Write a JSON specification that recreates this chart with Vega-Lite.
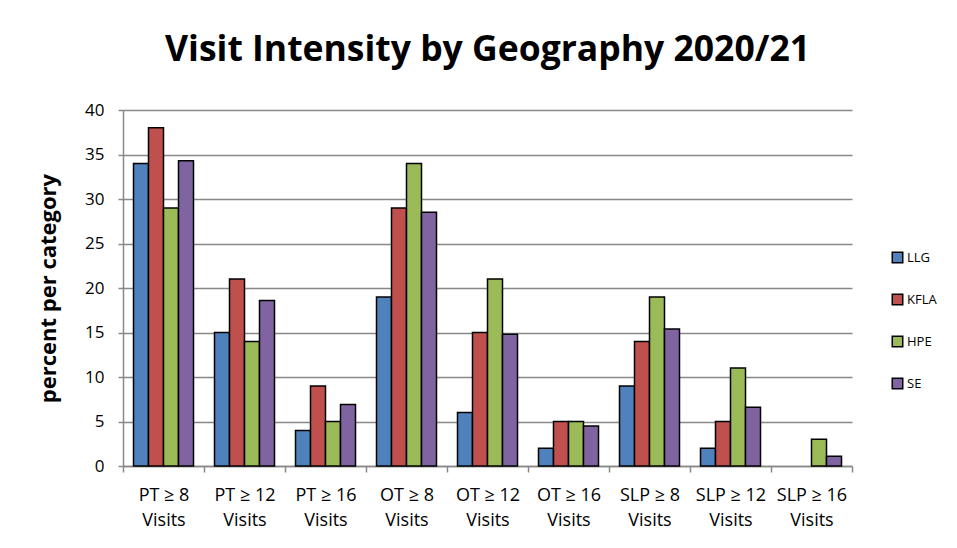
{
  "$schema": "https://vega.github.io/schema/vega-lite/v6.json",
  "width": 729,
  "height": 356,
  "autosize": {"type": "none"},
  "padding": {"left": 123, "top": 110, "right": 105, "bottom": 82},
  "background": "white",
  "title": {
    "text": "Visit Intensity by Geography 2020/21",
    "fontSize": 35.5,
    "font": "Open Sans",
    "fontWeight": "bold",
    "color": "black",
    "anchor": "middle",
    "offset": 33
  },
  "data": {
    "values": [
      {"cat": "PT ≥ 8", "geo": "LLG", "pct": 34},
      {"cat": "PT ≥ 8", "geo": "KFLA", "pct": 38},
      {"cat": "PT ≥ 8", "geo": "HPE", "pct": 29},
      {"cat": "PT ≥ 8", "geo": "SE", "pct": 34.3},
      {"cat": "PT ≥ 12", "geo": "LLG", "pct": 15},
      {"cat": "PT ≥ 12", "geo": "KFLA", "pct": 21},
      {"cat": "PT ≥ 12", "geo": "HPE", "pct": 14},
      {"cat": "PT ≥ 12", "geo": "SE", "pct": 18.6},
      {"cat": "PT ≥ 16", "geo": "LLG", "pct": 4},
      {"cat": "PT ≥ 16", "geo": "KFLA", "pct": 9},
      {"cat": "PT ≥ 16", "geo": "HPE", "pct": 5},
      {"cat": "PT ≥ 16", "geo": "SE", "pct": 6.9},
      {"cat": "OT ≥ 8", "geo": "LLG", "pct": 19},
      {"cat": "OT ≥ 8", "geo": "KFLA", "pct": 29},
      {"cat": "OT ≥ 8", "geo": "HPE", "pct": 34},
      {"cat": "OT ≥ 8", "geo": "SE", "pct": 28.5},
      {"cat": "OT ≥ 12", "geo": "LLG", "pct": 6},
      {"cat": "OT ≥ 12", "geo": "KFLA", "pct": 15},
      {"cat": "OT ≥ 12", "geo": "HPE", "pct": 21},
      {"cat": "OT ≥ 12", "geo": "SE", "pct": 14.8},
      {"cat": "OT ≥ 16", "geo": "LLG", "pct": 2},
      {"cat": "OT ≥ 16", "geo": "KFLA", "pct": 5},
      {"cat": "OT ≥ 16", "geo": "HPE", "pct": 5},
      {"cat": "OT ≥ 16", "geo": "SE", "pct": 4.5},
      {"cat": "SLP ≥ 8", "geo": "LLG", "pct": 9},
      {"cat": "SLP ≥ 8", "geo": "KFLA", "pct": 14},
      {"cat": "SLP ≥ 8", "geo": "HPE", "pct": 19},
      {"cat": "SLP ≥ 8", "geo": "SE", "pct": 15.4},
      {"cat": "SLP ≥ 12", "geo": "LLG", "pct": 2},
      {"cat": "SLP ≥ 12", "geo": "KFLA", "pct": 5},
      {"cat": "SLP ≥ 12", "geo": "HPE", "pct": 11},
      {"cat": "SLP ≥ 12", "geo": "SE", "pct": 6.6},
      {"cat": "SLP ≥ 16", "geo": "HPE", "pct": 3},
      {"cat": "SLP ≥ 16", "geo": "SE", "pct": 1.1}
    ]
  },
  "mark": {"type": "bar", "stroke": "black", "strokeWidth": 1.5},
  "encoding": {
    "x": {
      "field": "cat",
      "type": "nominal",
      "sort": null,
      "scale": {"paddingInner": 0, "paddingOuter": 0},
      "axis": {
        "title": null,
        "tickBand": "extent",
        "labelExpr": "datum.extra || !datum.label ? '' : [datum.label, 'Visits']",
        "labelFontSize": 18,
        "labelFont": "Open Sans",
        "labelColor": "black",
        "labelAngle": 0,
        "labelPadding": 14,
        "labelLineHeight": 25,
        "tickSize": 6,
        "tickColor": "#888888",
        "tickWidth": 1.5,
        "domainColor": "#888888",
        "domainWidth": 1.5,
        "grid": false
      }
    },
    "xOffset": {
      "field": "geo",
      "sort": ["LLG", "KFLA", "HPE", "SE"],
      "scale": {"paddingInner": 0, "paddingOuter": 0.7}
    },
    "y": {
      "field": "pct",
      "type": "quantitative",
      "scale": {"domain": [0, 40], "nice": false},
      "axis": {
        "title": "percent per category",
        "titleFontSize": 22,
        "titleFont": "Open Sans",
        "titleFontWeight": "bold",
        "titleColor": "black",
        "titlePadding": 24,
        "values": [0, 5, 10, 15, 20, 25, 30, 35, 40],
        "labelFontSize": 17,
        "labelFont": "Open Sans",
        "labelColor": "black",
        "labelPadding": 14,
        "tickSize": 5,
        "tickColor": "#888888",
        "tickWidth": 1.5,
        "domainColor": "#888888",
        "domainWidth": 1.5,
        "gridColor": "#888888",
        "gridWidth": 1.5
      }
    },
    "color": {
      "field": "geo",
      "type": "nominal",
      "sort": ["LLG", "KFLA", "HPE", "SE"],
      "scale": {
        "domain": ["LLG", "KFLA", "HPE", "SE"],
        "range": ["#4F81BD", "#C0504D", "#9BBB59", "#8064A2"]
      },
      "legend": {
        "title": null,
        "orient": "none",
        "legendX": 768,
        "legendY": 141,
        "symbolType": "square",
        "symbolSize": 110,
        "symbolStrokeColor": "black",
        "symbolStrokeWidth": 1.5,
        "symbolOpacity": 1,
        "labelFontSize": 13,
        "labelFont": "Open Sans",
        "labelColor": "black",
        "labelOffset": 3,
        "rowPadding": 25
      }
    }
  },
  "config": {"view": {"stroke": null}}
}
